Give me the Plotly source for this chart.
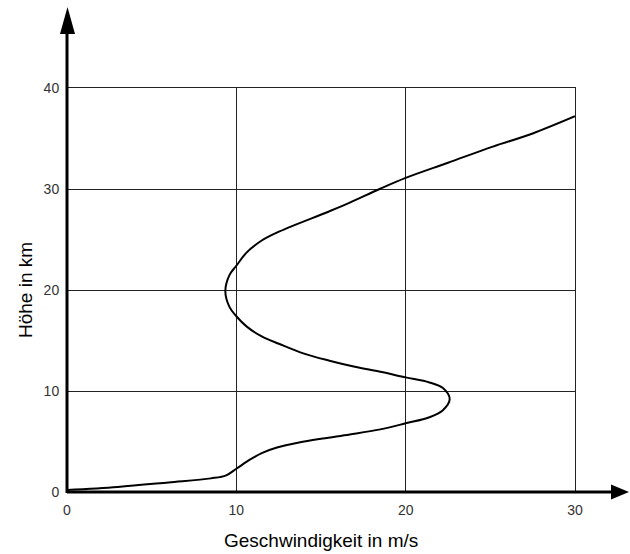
import plotly.graph_objects as go

# Wind speed profile over altitude
speed = [0, 3, 6, 8.5, 9.4, 10, 10.8, 11.5, 12.4, 13.7, 15.1, 16.7, 18.5, 20,
         21.4, 22.2, 22.6, 22.2, 21.4, 20, 18.5, 17, 15.5, 14, 12.55, 11.5, 10.6,
         10, 9.6, 9.35, 9.6, 10, 10.6, 11.5, 12.55, 15.5, 16.7, 18.46, 20, 22.5,
         25.15, 27.5, 30]
height = [0.2, 0.5, 0.95, 1.35, 1.65, 2.3, 3.2, 3.85, 4.4, 4.9, 5.3, 5.7, 6.2, 6.8,
          7.4, 8.1, 9.2, 10.3, 10.85, 11.35, 11.9, 12.4, 13.0, 13.7, 14.65, 15.4, 16.4,
          17.4, 18.3, 19.9, 21.5, 22.4, 23.7, 24.9, 25.8, 27.8, 28.65, 30.0, 31.1, 32.6,
          34.2, 35.5, 37.2]

x_ticks = [0, 10, 20, 30]
y_ticks = [0, 10, 20, 30, 40]

# plot area in pixels
L, R, T, B = 67, 55, 88, 62
W_FIG, H_FIG = 630, 554
PW, PH = W_FIG - L - R, H_FIG - T - B


def px_x(p):
    return (p - L) / PW


def px_y(p):
    return (H_FIG - B - p) / PH


fig = go.Figure(go.Scatter(
    x=speed, y=height, mode="lines",
    line=dict(color="black", width=2, shape="spline", smoothing=1.0),
    hoverinfo="skip", showlegend=False,
))

tick_font = dict(family="Liberation Sans, Arial, sans-serif", size=14, color="#333")
grid = "#222"

fig.update_xaxes(range=[0, 30], tickvals=x_ticks, ticktext=[str(v) for v in x_ticks],
                 showgrid=True, gridcolor=grid, gridwidth=1, zeroline=False,
                 showline=True, mirror=True, linecolor=grid, linewidth=1,
                 ticks="", tickfont=tick_font, ticklabelstandoff=5)
fig.update_yaxes(range=[0, 40], tickvals=y_ticks, ticktext=[str(v) for v in y_ticks],
                 showgrid=True, gridcolor=grid, gridwidth=1, zeroline=False,
                 showline=True, mirror=True, linecolor=grid, linewidth=1,
                 ticks="", tickfont=tick_font, ticklabelstandoff=4)

shapes = [
    # x axis with arrow
    dict(type="line", xref="paper", yref="paper", x0=0, y0=0, x1=px_x(613), y1=0,
         line=dict(color="black", width=3)),
    dict(type="path", xref="paper", yref="paper",
         path=f"M {px_x(611)} {px_y(484.5)} L {px_x(629)} {px_y(492)} L {px_x(611)} {px_y(499.5)} Z",
         fillcolor="black", line=dict(color="black", width=0)),
    # y axis with arrow
    dict(type="line", xref="paper", yref="paper", x0=0, y0=px_y(493), x1=0, y1=px_y(32),
         line=dict(color="black", width=3)),
    dict(type="path", xref="paper", yref="paper",
         path=f"M {px_x(60)} {px_y(34)} L {px_x(67.5)} {px_y(7)} L {px_x(75)} {px_y(34)} Z",
         fillcolor="black", line=dict(color="black", width=0)),
]

title_font = dict(family="Liberation Sans, Arial, sans-serif", size=19, color="black")
annotations = [
    dict(text="Geschwindigkeit in m/s", xref="paper", yref="paper",
         x=px_x(321), y=px_y(540), showarrow=False, font=title_font,
         xanchor="center", yanchor="middle"),
    dict(text="Höhe in km", xref="paper", yref="paper",
         x=px_x(25), y=px_y(290), showarrow=False, font=title_font, textangle=-90,
         xanchor="center", yanchor="middle"),
]

fig.update_layout(
    width=W_FIG, height=H_FIG,
    margin=dict(l=L, r=R, t=T, b=B, pad=0),
    paper_bgcolor="white", plot_bgcolor="white",
    shapes=shapes, annotations=annotations,
    showlegend=False,
)

fig.write_html("out.html")
